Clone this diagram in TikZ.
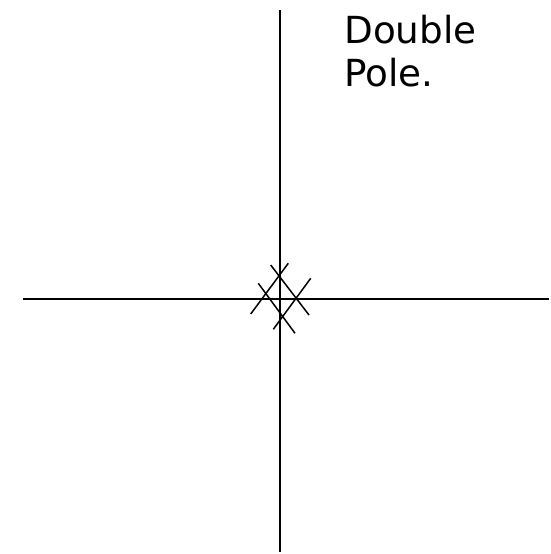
\documentclass[tikz,border=0pt]{standalone}
\usepackage{fontspec}
\setmainfont{DejaVu Sans}
\begin{document}
\begin{tikzpicture}[x=1pt,y=-1pt,line width=1.5pt,
  lbl/.style={inner sep=0pt,anchor=base west,font=\fontsize{37.3}{44}\selectfont}]
\useasboundingbox (0,0) rectangle (550,554);
\coordinate (vt) at (280,10);
\coordinate (vb) at (280,552);
\coordinate (hl) at (23,299);
\coordinate (hr) at (549,299);
\draw (vt) -- (vb);
\draw (hl) -- (hr);
\coordinate (a1) at (270.7,265); \coordinate (a2) at (309,315);
\coordinate (b1) at (288.3,263.3); \coordinate (b2) at (250.7,314);
\coordinate (c1) at (258.3,283.3); \coordinate (c2) at (295,333.3);
\coordinate (d1) at (310.7,278.3); \coordinate (d2) at (273.3,329.3);
\draw (a1) -- (a2);
\draw (b1) -- (b2);
\draw (c1) -- (c2);
\draw (d1) -- (d2);
\node[lbl] (t1) at (343.6,43.3) {Double};
\node[lbl] (t2) at (343.6,86.3) {Pole.};
\end{tikzpicture}
\end{document}
